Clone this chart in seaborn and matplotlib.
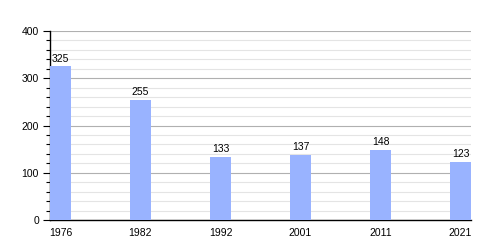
import matplotlib
matplotlib.use("Agg")
import matplotlib.pyplot as plt
import seaborn as sns
import pandas as pd
from matplotlib.ticker import MultipleLocator

years = ["1976", "1982", "1992", "2001", "2011", "2021"]
values = [325, 255, 133, 137, 148, 123]

sns.set_style("white")
plt.rcParams['font.family'] = ['Liberation Sans', 'DejaVu Sans']
plt.rcParams['text.color'] = 'black'
plt.rcParams['xtick.color'] = 'black'
plt.rcParams['ytick.color'] = 'black'

df = pd.DataFrame({"year": years, "pop": values})
fig = plt.figure(figsize=(5, 2.5), dpi=100)
ax = fig.add_axes([0.1, 0.12, 0.842, 0.756])
sns.barplot(data=df, x="year", y="pop", color="#99b3ff", saturation=1, width=0.26,
            linewidth=0, edgecolor="none", ax=ax, zorder=3)
ax.set_xlim(-0.13, 5.13)
ax.set_ylim(0, 400)
ax.yaxis.set_major_locator(MultipleLocator(100))
ax.yaxis.set_minor_locator(MultipleLocator(20))
ax.grid(which="major", axis="y", color="#b0b0b0", linewidth=0.8, zorder=0)
ax.grid(which="minor", axis="y", color="#e4e4e4", linewidth=0.8, zorder=0)
ax.set_axisbelow(True)
ax.set_xlabel("")
ax.set_ylabel("")
for s in ["top", "right"]:
    ax.spines[s].set_visible(False)
ax.spines["left"].set_color("black")
ax.spines["bottom"].set_color("black")
ax.spines["left"].set_linewidth(1)
ax.spines["bottom"].set_linewidth(1)
ax.tick_params(axis="y", which="major", left=True, length=5, width=0.8, labelsize=7.5, pad=3, colors="black")
ax.tick_params(axis="y", which="minor", left=True, length=3, width=0.8, colors="black")
ax.tick_params(axis="x", bottom=False, labelsize=7.5, pad=2, colors="black")
for c in ax.containers:
    ax.bar_label(c, labels=[str(v) for v in values], fontsize=7.5, padding=2, color="black")
fig.savefig("out.png", dpi=100)
